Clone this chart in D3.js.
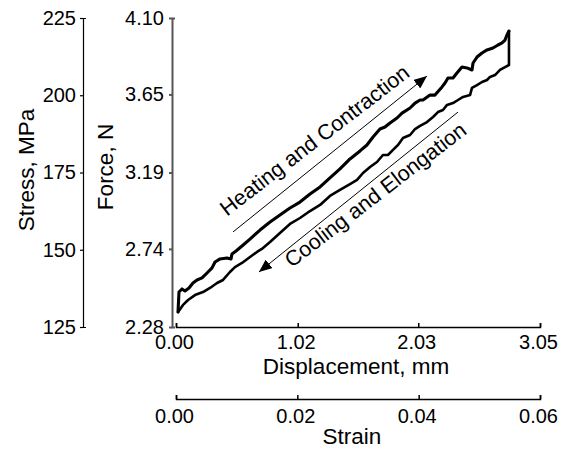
<!DOCTYPE html>
<html><head><meta charset="utf-8">
<script src="https://cdn.jsdelivr.net/npm/d3@7"></script>
<style>body{margin:0;background:#fff}svg{display:block}</style>
</head><body><svg id="c" width="562" height="449"></svg>
<script>
// Heating and contraction branch (upper curve), displacement mm / force N
const heatDisp = [0.017,0.025,0.050,0.075,0.109,0.142,0.176,0.218,0.260,0.302,0.327,0.369,0.427,0.461,0.469,0.503,0.553,0.620,0.704,0.788,0.871,0.955,1.039,1.123,1.207,1.290,1.374,1.458,1.542,1.600,1.651,1.709,1.751,1.793,1.852,1.894,1.961,2.003,2.045,2.070,2.128,2.170,2.229,2.254,2.279,2.321,2.354,2.396,2.438,2.480,2.489,2.522,2.564,2.606,2.656,2.698,2.732,2.757,2.773,2.790];
const heatForce = [2.368,2.486,2.504,2.492,2.510,2.539,2.557,2.569,2.598,2.628,2.663,2.681,2.686,2.681,2.710,2.728,2.757,2.798,2.851,2.898,2.940,2.981,3.016,3.063,3.105,3.158,3.211,3.270,3.317,3.352,3.399,3.446,3.458,3.482,3.511,3.540,3.570,3.599,3.617,3.617,3.646,3.646,3.694,3.717,3.747,3.747,3.776,3.811,3.806,3.794,3.835,3.870,3.894,3.912,3.923,3.941,3.953,3.970,4.000,4.023];
// Cooling and elongation branch (lower curve)
const coolDisp = [2.790,2.790,2.757,2.715,2.673,2.631,2.606,2.564,2.522,2.480,2.464,2.405,2.363,2.321,2.271,2.237,2.195,2.154,2.103,2.045,2.003,1.961,1.902,1.860,1.818,1.776,1.734,1.684,1.626,1.567,1.517,1.458,1.374,1.290,1.207,1.123,1.039,0.955,0.871,0.788,0.729,0.679,0.620,0.553,0.494,0.452,0.394,0.344,0.285,0.226,0.159,0.101,0.059,0.017];
const coolForce = [4.023,3.823,3.811,3.794,3.764,3.753,3.735,3.723,3.705,3.688,3.646,3.635,3.617,3.599,3.588,3.558,3.546,3.517,3.487,3.464,3.446,3.411,3.393,3.352,3.323,3.293,3.293,3.252,3.222,3.187,3.146,3.122,3.087,3.052,2.999,2.963,2.922,2.887,2.834,2.781,2.745,2.722,2.692,2.657,2.633,2.604,2.557,2.539,2.510,2.486,2.468,2.439,2.410,2.368];

const dispTicks = [0, 1.02, 2.03, 3.05];
const strainTicks = [0, 0.02, 0.04, 0.06];
const forceTicks = [2.28, 2.74, 3.19, 3.65, 4.10];
const stressTicks = [125, 150, 175, 200, 225];

const annoText = ["Heating and Contraction", "Cooling and Elongation"];
const annoTextDisp = [0.427, 0.969];
const annoTextForce = [2.930, 2.626];
const arrowFromDisp = [0.478, 2.363];
const arrowFromForce = [2.840, 3.546];
const arrowToDisp = [2.103, 0.695];
const arrowToForce = [3.758, 2.604];

const FONT = "'Liberation Sans', Arial, Helvetica, sans-serif";
const svg = d3.select("#c");
svg.append("rect").attr("width",562).attr("height",449).attr("fill","#fff");

const x = d3.scaleLinear([0, 3.05], [176, 540]);
const xs = d3.scaleLinear([0, 0.06], [176, 540]);
const yF = d3.scaleLinear([2.28, 4.10], [327, 18]);
const yS = d3.scaleLinear([125, 225], [327, 18]);

function styleAxis(g, size, color, width){
  g.attr("font-family", FONT).attr("font-size", size);
  g.selectAll("text").attr("fill", "#000");
  g.select(".domain").attr("stroke", color).attr("stroke-width", width);
  g.selectAll(".tick line").attr("stroke", color).attr("stroke-width", width);
}

// Stress axis
const gS = svg.append("g").attr("transform","translate(83,0)")
  .call(d3.axisLeft(yS).tickValues(stressTicks).tickSizeInner(3).tickSizeOuter(-3).tickPadding(4).tickFormat(d3.format("d")));
styleAxis(gS, "20px", "#000", 1.2);

// Force axis
const gF = svg.append("g").attr("transform","translate(172,0)")
  .call(d3.axisLeft(yF).tickValues(forceTicks).tickSizeInner(3).tickSizeOuter(-3).tickPadding(5).tickFormat(d3.format(".2f")));
styleAxis(gF, "20px", "#555", 2);

// Displacement axis
const gX = svg.append("g").attr("transform","translate(0,327)")
  .call(d3.axisBottom(x).tickValues(dispTicks).tickSizeInner(-4).tickSizeOuter(-4).tickPadding(8).tickFormat(d3.format(".2f")));
styleAxis(gX, "20px", "#000", 1.5);
gX.selectAll("text").attr("dx", -2);

// Strain axis
const gSt = svg.append("g").attr("transform","translate(0,399)")
  .call(d3.axisBottom(xs).tickValues(strainTicks).tickSizeInner(-4).tickSizeOuter(-4).tickPadding(10).tickFormat(d3.format(".2f")));
styleAxis(gSt, "20px", "#000", 1.5);
gSt.selectAll("text").attr("dx", -2);

// Titles
const title = (t, tx, ty, rot) => svg.append("text").text(t)
  .attr("transform", `translate(${tx},${ty})` + (rot ? ` rotate(${rot})` : ""))
  .attr("text-anchor","middle").attr("font-family",FONT).attr("font-size","22.5px").attr("fill","#000");
title("Stress, MPa", 34, 170, -90);
title("Force, N", 113, 167, -90);
title("Displacement, mm", 356, 374);
title("Strain", 352, 444);

// Curves
const line = d3.line().x(d => x(d[0])).y(d => yF(d[1])).curve(d3.curveLinear);
const heat = heatDisp.map((d,i) => [d, heatForce[i]]);
const cool = coolDisp.map((d,i) => [d, coolForce[i]]);
svg.append("path").attr("d", line(cool)).attr("fill","none").attr("stroke","#000")
  .attr("stroke-width",2.6).attr("stroke-linejoin","round").attr("stroke-linecap","round");
svg.append("path").attr("d", line(heat)).attr("fill","none").attr("stroke","#000")
  .attr("stroke-width",3.1).attr("stroke-linejoin","round").attr("stroke-linecap","round");

// Arrows
const defs = svg.append("defs");
defs.append("marker").attr("id","ah").attr("viewBox","0 -5 12 10").attr("refX",12).attr("refY",0)
  .attr("markerUnits","userSpaceOnUse").attr("markerWidth",13).attr("markerHeight",11).attr("orient","auto")
  .append("path").attr("d","M0,-5L12,0L0,5Z").attr("fill","#000");
arrowFromDisp.forEach((d,i) => {
  svg.append("line").attr("x1", x(d)).attr("y1", yF(arrowFromForce[i]))
    .attr("x2", x(arrowToDisp[i])).attr("y2", yF(arrowToForce[i]))
    .attr("stroke","#000").attr("stroke-width",1).attr("marker-end","url(#ah)");
});
annoText.forEach((t,i) => {
  svg.append("text").text(t)
    .attr("transform", `translate(${x(annoTextDisp[i])},${yF(annoTextForce[i])}) rotate(-37.5)`)
    .attr("font-family", FONT).attr("font-size","21.5px").attr("fill","#000");
});
</script></body></html>
